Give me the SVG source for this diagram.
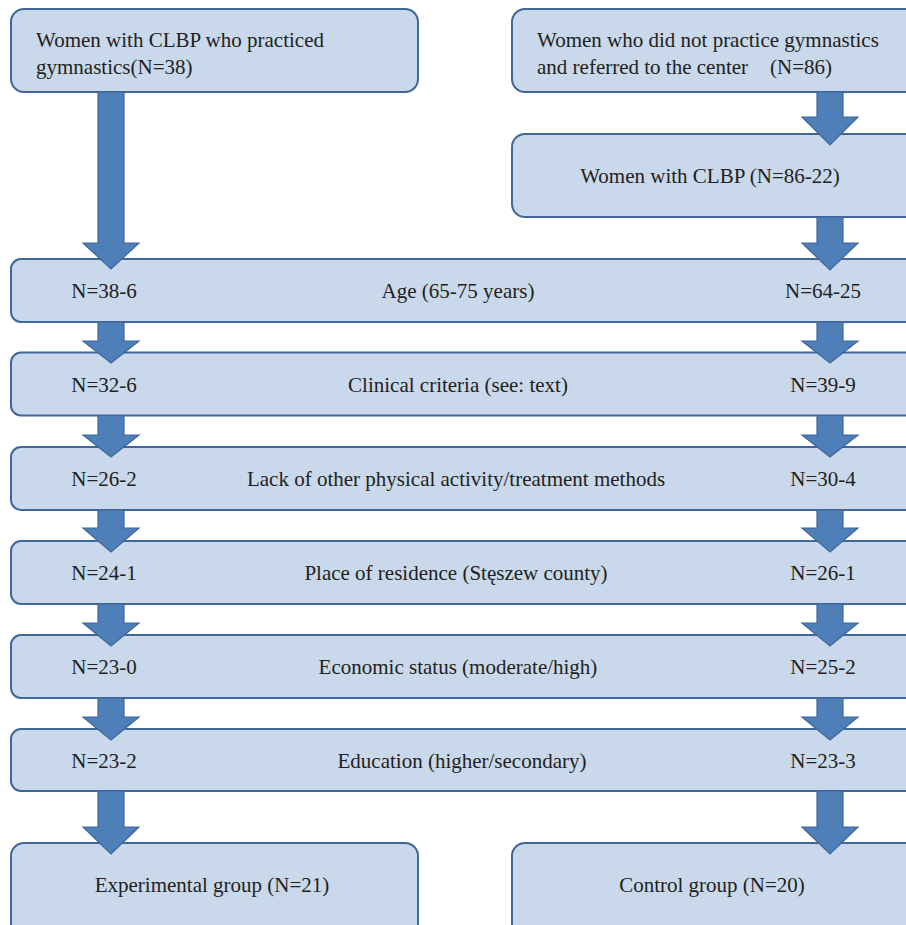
<svg xmlns="http://www.w3.org/2000/svg" width="906" height="925" viewBox="0 0 906 925">
<style>
.box{fill:#c9d8ea;stroke:#41679a;stroke-width:2}
.arr{fill:#4f7fb8;stroke:#3f6799;stroke-width:1.2;stroke-linejoin:miter}
text{font-family:"Liberation Serif","Times New Roman",serif;font-size:21px;fill:#231f20}
.m{text-anchor:middle}
</style>
<rect width="906" height="925" fill="#ffffff"/>
<g id="nodes">
<g id="start-left">
<rect class="box" x="11" y="9" width="407" height="83" rx="13"/>
<text x="36" y="47">Women with CLBP who practiced</text>
<text x="36" y="74">gymnastics(N=38)</text>
</g>
<g id="start-right">
<rect class="box" x="512" y="9" width="410" height="83" rx="13"/>
<text x="537" y="47">Women who did not practice gymnastics</text>
<text x="537" y="74">and referred to the center<tspan x="770">(N=86)</tspan></text>
</g>
<g id="clbp-right">
<rect class="box" x="512" y="134" width="410" height="83" rx="13"/>
<text class="m" x="710" y="183">Women with CLBP (N=86-22)</text>
</g>
<g id="row-age">
<rect class="box" x="11" y="259" width="910" height="63" rx="10"/>
<text class="m" x="104" y="298">N=38-6</text>
<text class="m" x="458" y="298">Age (65-75 years)</text>
<text class="m" x="823" y="298">N=64-25</text>
</g>
<g id="row-clinical">
<rect class="box" x="11" y="352.5" width="910" height="63" rx="10"/>
<text class="m" x="104" y="392">N=32-6</text>
<text class="m" x="458" y="392">Clinical criteria (see: text)</text>
<text class="m" x="823" y="392">N=39-9</text>
</g>
<g id="row-activity">
<rect class="box" x="11" y="447" width="910" height="63" rx="10"/>
<text class="m" x="104" y="486">N=26-2</text>
<text class="m" x="456" y="486">Lack of other physical activity/treatment methods</text>
<text class="m" x="823" y="486">N=30-4</text>
</g>
<g id="row-residence">
<rect class="box" x="11" y="541" width="910" height="63" rx="10"/>
<text class="m" x="104" y="580">N=24-1</text>
<text class="m" x="456" y="580">Place of residence (Stęszew county)</text>
<text class="m" x="823" y="580">N=26-1</text>
</g>
<g id="row-economic">
<rect class="box" x="11" y="635" width="910" height="63" rx="10"/>
<text class="m" x="104" y="674">N=23-0</text>
<text class="m" x="458" y="674">Economic status (moderate/high)</text>
<text class="m" x="823" y="674">N=25-2</text>
</g>
<g id="row-education">
<rect class="box" x="11" y="729" width="910" height="62" rx="10"/>
<text class="m" x="104" y="768">N=23-2</text>
<text class="m" x="462" y="768">Education (higher/secondary)</text>
<text class="m" x="823" y="768">N=23-3</text>
</g>
<g id="experimental">
<rect class="box" x="11" y="843" width="407" height="100" rx="13"/>
<text class="m" x="212" y="892">Experimental group (N=21)</text>
</g>
<g id="control">
<rect class="box" x="512" y="843" width="410" height="100" rx="13"/>
<text class="m" x="712" y="892">Control group (N=20)</text>
</g>
</g>
<g id="connectors">
<path class="arr" d="M98,92 H124 V243 H139 L111,269 L83,243 H98 Z"/>
<path class="arr" d="M817,92 H843 V117 H858 L830,145 L802,117 H817 Z"/>
<path class="arr" d="M817,217 H843 V243 H858 L830,270 L802,243 H817 Z"/>
<path class="arr" d="M98,322 H124 V341 H139 L111,363 L83,341 H98 Z"/>
<path class="arr" d="M817,322 H843 V341 H858 L830,363 L802,341 H817 Z"/>
<path class="arr" d="M98,415.5 H124 V435 H139 L111,457 L83,435 H98 Z"/>
<path class="arr" d="M817,415.5 H843 V435 H858 L830,457 L802,435 H817 Z"/>
<path class="arr" d="M98,510 H124 V528 H139 L111,552 L83,528 H98 Z"/>
<path class="arr" d="M817,510 H843 V528 H858 L830,552 L802,528 H817 Z"/>
<path class="arr" d="M98,604 H124 V623 H139 L111,646 L83,623 H98 Z"/>
<path class="arr" d="M817,604 H843 V623 H858 L830,646 L802,623 H817 Z"/>
<path class="arr" d="M98,698 H124 V717 H139 L111,740 L83,717 H98 Z"/>
<path class="arr" d="M817,698 H843 V717 H858 L830,740 L802,717 H817 Z"/>
<path class="arr" d="M98,791 H124 V827 H139 L111,854 L83,827 H98 Z"/>
<path class="arr" d="M817,791 H843 V827 H858 L830,854 L802,827 H817 Z"/>
</g>
</svg>
